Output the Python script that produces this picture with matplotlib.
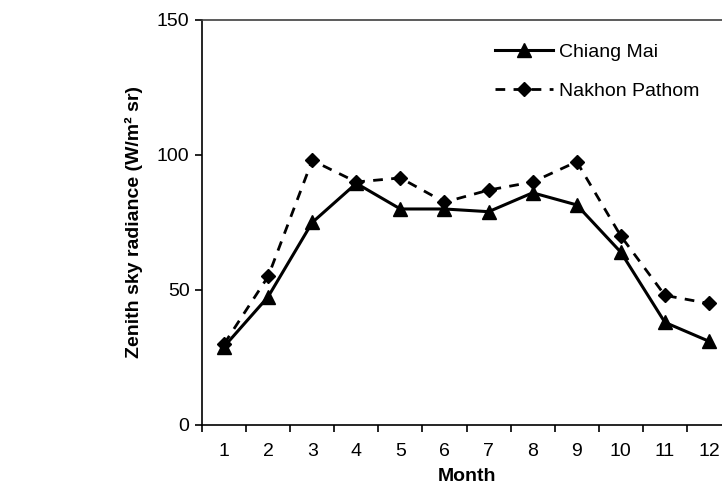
import matplotlib.pyplot as plt

plt.rcParams['font.family'] = ['Liberation Sans', 'DejaVu Sans']

months = list(range(1, 13))
month_labels = [str(m) for m in months]
chiang_mai = [29, 47.5, 75, 89.5, 80, 80, 79, 86, 81.5, 64, 38, 31]
nakhon_pathom = [30, 55, 98, 90, 91.5, 82.5, 87, 90, 97.5, 70, 48, 45]

fig = plt.figure(figsize=(7.22, 4.9), dpi=100)
ax = fig.add_axes([0.2798, 0.1327, 0.7327, 0.8265])

ax.plot(months, chiang_mai, color="black", linewidth=2.2, marker="^",
        markersize=10, label="Chiang Mai")
ax.plot(months, nakhon_pathom, color="black", linewidth=2.0, linestyle=(0, (3.5, 3)),
        marker="D", markersize=7, label="Nakhon Pathom")

ax.set_xlim(0.5, 12.5)
ax.set_ylim(0, 150)
ax.set_yticks([0, 50, 100, 150])

# category axis: ticks between months, labels at the centres
ax.set_xticks([m + 0.5 for m in [0] + months])
ax.set_xticklabels([])
ax.set_xticks(months, minor=True)
ax.set_xticklabels(month_labels, minor=True)
ax.tick_params(axis="x", which="minor", length=0, pad=13, labelsize=14)
ax.tick_params(axis="x", which="major", length=5, width=1.2, direction="out")
ax.tick_params(axis="y", length=5, width=1.2, labelsize=14, pad=4)

for s in ax.spines.values():
    s.set_linewidth(1.2)
ax.spines["top"].set_color("#404040")

ax.set_xlabel("Month", fontsize=14, fontweight="bold", labelpad=6)
ax.set_ylabel("Zenith sky radiance (W/m² sr)", fontsize=14, fontweight="bold", labelpad=10)

ax.legend(loc="upper left", bbox_to_anchor=(0.52, 0.985), frameon=False, fontsize=14,
          handlelength=3.0, handletextpad=0.3, labelspacing=1.1)

fig.savefig("out.png", dpi=100)
